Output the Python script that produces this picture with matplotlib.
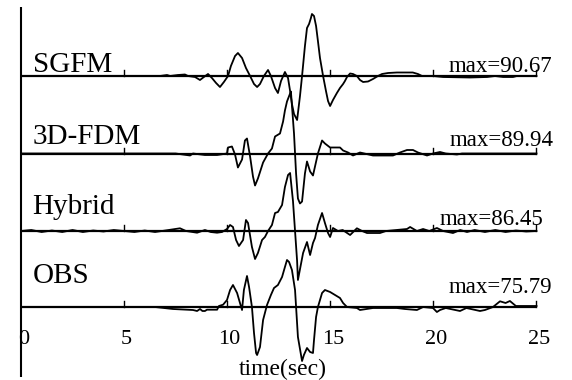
import matplotlib
matplotlib.use("Agg")
import matplotlib.pyplot as plt

# ---- data (time in sec, relative amplitude) ----
names = ["SGFM", "3D-FDM", "Hybrid", "OBS"]
max_values = ["90.67", "89.94", "86.45", "75.79"]
xticks = [0, 5, 10, 15, 20, 25]

sgfm_t = [0, 6.74, 7.08, 7.23, 7.61, 7.95, 8.10, 8.44, 8.68, 8.87, 9.07, 9.26, 9.46, 9.65, 9.84,
          10.04, 10.18, 10.38, 10.52, 10.72, 10.91, 11.11, 11.30, 11.45, 11.59, 11.78, 11.98, 12.12,
          12.32, 12.46, 12.61, 12.80, 12.95, 13.05, 13.14, 13.24, 13.39, 13.53, 13.63, 13.77, 13.87,
          13.97, 14.06, 14.11, 14.21, 14.31, 14.40, 14.50, 14.65, 14.79, 14.89, 14.99, 15.13, 15.32,
          15.47, 15.62, 15.71, 15.81, 15.96, 16.10, 16.29, 16.44, 16.59, 16.83, 17.07, 17.31, 17.51,
          17.80, 18.23, 19.00, 19.25, 19.45, 19.98, 20.47, 21.77, 22.60, 22.99, 23.38, 23.86, 24.05, 25.0]
sgfm_a = [0, 0, 1, 0, 1, 1.5, 0, -1, -4, -1, 2, -2, -7, -11, -6,
          0, 10, 20, 23, 18, 8, 0, -8, -11, -8, 0, 6, 0,
          -12, -17, -5, 4, -2, -15, -28, -38, -44, -20, 0, 30, 48,
          52, 58, 62, 60, 50, 35, 18, 0, -15, -25, -30, -24, -17,
          -12, -8, -5, -1, 2.5, 2, 0, -4, -6, -5.5, -3, 0, 2,
          3, 3.5, 3.5, 2, 0, 0, -1, -1.5, -1, 0, -1, -1, 0, 0]

fdm_t = [0, 7.5, 8.20, 8.34, 8.92, 9.51, 9.99, 10.04, 10.23, 10.38, 10.52, 10.72, 10.86, 10.96,
         11.11, 11.25, 11.35, 11.49, 11.74, 11.98, 12.17, 12.32, 12.56, 12.71, 12.80, 12.90, 13.05,
         13.09, 13.24, 13.34, 13.43, 13.53, 13.63, 13.77, 13.87, 14.02, 14.16, 14.40, 14.60, 14.74,
         14.99, 15.47, 15.62, 15.86, 16.10, 16.44, 17.07, 18.04, 18.38, 18.72, 19.01, 19.25, 19.69,
         19.98, 20.32, 20.60, 21.14, 21.39, 25.0]
fdm_a = [0, 0, -2, 0, -1.5, -1.5, 0, 6, 7, -1, -14, -6, 13, 15,
         -3, -23, -32, -25, -9, 0, 5, 17, 20, 32, 43, 52, 60,
         62, 20, -20, -45, -50, -48, -20, -8, -18, -22, 0, 13, 10,
         6, 6, 3, 1, -2, 1, -2, -2, 1, 3.5, 3.5, 1, -2,
         0, 1.5, 0, -1, 0, 0]

hyb_t = [0, 0.5, 1.0, 1.5, 2.0, 2.5, 3.0, 3.5, 4.0, 4.5, 5.0, 5.5, 6.0, 6.5, 7.0, 7.71, 8.0, 8.54,
         8.92, 9.2, 9.51, 9.75, 9.99, 10.14, 10.28, 10.43, 10.57, 10.77, 10.91, 11.01, 11.20, 11.35,
         11.49, 11.69, 11.83, 11.98, 12.17, 12.32, 12.46, 12.66, 12.80, 12.95, 13.05, 13.19, 13.29,
         13.39, 13.43, 13.68, 13.87, 14.02, 14.16, 14.26, 14.40, 14.60, 14.74, 14.89, 14.99, 15.13,
         15.37, 15.60, 15.96, 16.29, 16.54, 16.78, 17.41, 17.70, 18.72, 18.87, 19.20, 19.50, 19.80,
         20.17, 20.47, 20.95, 21.30, 21.63, 22.0, 22.5, 23.0, 23.5, 24.0, 24.5, 25.0]
hyb_a = [0, 1, -1, 0.5, -1, 1, -1, 0.5, -0.5, 1, 0, -1, 0.5, -1, 0.5, 2.7, 0, -1.7,
         1, -1, -1.7, -1, 2, 6, 4, -9, -15, -9, 11, 8, -16, -28,
         -22, -9, -6, 0, 6, 18, 19, 26, 44, 56, 58, 30, 0,
         -30, -49, -22, -11, -24, -12, -7, 6, 18, 8, -2, -6, 3,
         0, 1, -4, 2.7, 0, -2, -2, 0, 2, 4, 0, 2, 0,
         3, 0, -2, 1, -1, 1, -1, 1, -1, 0.5, -0.5, 0]

obs_t = [0, 6.5, 7.37, 8.34, 8.54, 8.68, 8.80, 8.92, 9.02, 9.51, 9.60, 9.80, 9.99, 10.14, 10.28,
         10.48, 10.62, 10.72, 10.81, 10.96, 11.06, 11.20, 11.30, 11.40, 11.45, 11.59, 11.74, 11.93,
         12.12, 12.27, 12.46, 12.66, 12.80, 12.90, 13.00, 13.14, 13.29, 13.43, 13.63, 13.72, 13.87,
         14.02, 14.16, 14.21, 14.31, 14.40, 14.60, 14.74, 14.99, 15.23, 15.47, 15.62, 15.81, 16.29,
         16.44, 17.07, 18.23, 18.62, 19.20, 19.50, 19.98, 20.17, 20.32, 20.60, 21.29, 21.60, 22.26,
         22.50, 22.89, 23.23, 23.50, 23.71, 24.00, 24.35, 25.0]
obs_a = [0, 0, -2, -3, -4, -2, -4, -4, -2.7, -2.7, 1, 2.3, 7, 17, 22,
         14, 4, -3, 17, 31, 20, 0, -26, -46, -48, -40, -13, 2,
         12, 19, 22, 30, 40, 47, 45, 37, 17, -30, -54, -48, -41,
         -45, -46, -33, -10, 0, 14, 17, 15, 12, 9, 4, 0, -1,
         -3, -1, -1, -2, -3, 0, -1, -5, -3, -1, -4, -1, -4,
         -3, 0, 5.7, 4, 6, 1, 1, 1]

series_t = [sgfm_t, fdm_t, hyb_t, obs_t]
series_a = [sgfm_a, fdm_a, hyb_a, obs_a]

# ---- layout ----
W, H, DPI = 572, 380, 100
px_per_sec = 20.62
x0_px = 21
fig = plt.figure(figsize=(W / DPI, H / DPI), dpi=DPI)
ax = fig.add_axes([0, 0, 1, 1])
ax.set_xlim(-x0_px / px_per_sec, (W - x0_px) / px_per_sec)
ax.set_ylim(-H, 0)
ax.axis("off")

serif = "Liberation Serif"
offsets = [-76, -153.5, -231, -307]
label_y = [-72, -144, -214, -283]
max_x = [25.75, 25.85, 25.32, 25.75]
max_y = [-72, -146, -225, -293]

# vertical axis line
ax.plot([0, 0], [-7, -377], color="black", lw=1.5, solid_capstyle="butt")

for i, off in enumerate(offsets):
    ax.plot([0, 25], [off, off], color="black", lw=1.6, solid_capstyle="butt")
    for tk in xticks[1:]:
        ax.plot([tk, tk], [off, off + 6], color="black", lw=1.0)
    ax.plot(series_t[i], [off + a for a in series_a[i]], color="black", lw=1.3)
    ax.text(0.56, label_y[i], names[i], fontsize=21, family=serif, va="baseline", ha="left")
    ax.text(max_x[i], max_y[i], "max=" + max_values[i], fontsize=16.5, family=serif,
            va="baseline", ha="right")

for tk in xticks:
    ax.text(tk + 0.12, -340, str(tk), fontsize=16, family=serif, va="center", ha="center")

ax.text(12.7, -375, "time(sec)", fontsize=17, family=serif, va="baseline", ha="center")

fig.savefig("out.png", dpi=DPI, facecolor="white")
